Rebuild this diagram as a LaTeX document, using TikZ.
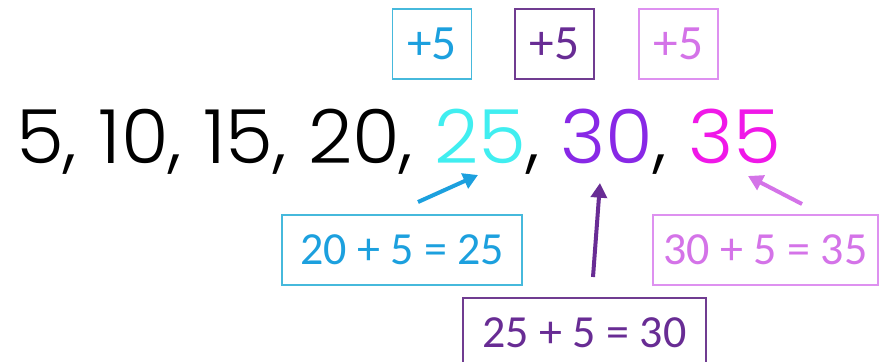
\documentclass[tikz,border=0pt]{standalone}
\usepackage{fontspec}
\usepackage{graphicx}
\newfontfamily\numfont{Poppins}[UprightFont=* Light]
\newfontfamily\boxfont{Carlito}
\usetikzlibrary{arrows.meta}
\definecolor{cyanA}{RGB}{64,238,240}
\definecolor{purpA}{RGB}{136,40,230}
\definecolor{magA}{RGB}{240,24,232}
\definecolor{boxC}{RGB}{70,185,220}
\definecolor{txtC}{RGB}{28,160,222}
\definecolor{boxP}{RGB}{112,60,145}
\definecolor{txtP}{RGB}{104,44,148}
\definecolor{boxV}{RGB}{222,145,240}
\definecolor{txtV}{RGB}{212,115,232}
\tikzset{
  topbox/.style={draw=#1, line width=1.2pt, minimum width=59.25pt, minimum height=52.5pt, inner sep=0pt, font=\boxfont\fontsize{37}{40}\selectfont},
  eqbox/.style={draw=#1, line width=1.2pt, minimum height=52.5pt, inner sep=0pt, font=\boxfont\fontsize{34.5}{38}\selectfont},
  arr/.style={draw=#1, line width=3pt, -{Triangle[length=11pt,width=12pt]}},
}
\begin{document}
\begin{tikzpicture}[x=0.75pt,y=-0.75pt]
\useasboundingbox (0,0) rectangle (880,361);
\begin{scope}
\clip (0,0) rectangle (880,361);
% top boxes
\node[topbox=boxC, text=txtC] (t1) at (432,44) {+5};
\node[topbox=boxP, text=txtP] (t2) at (554.5,44) {+5};
\node[topbox=boxV, text=txtV] (t3) at (678.5,44) {+5};
% sequence
\node[anchor=base west, inner sep=0pt, font=\numfont\fontsize{56}{60}\selectfont] (seq) at (16,163)
  {\scalebox{1.035}[1]{5, 10, 15, 20, \textcolor{cyanA}{25}, \textcolor{purpA}{30}, \textcolor{magA}{35}}};
% equation boxes
\node[eqbox=boxC, text=txtC, minimum width=180pt] (e1) at (402,250) {20 + 5 = 25};
\node[eqbox=boxP, text=txtP, minimum width=182.25pt] (e2) at (584.5,333) {25 + 5 = 30};
\node[eqbox=boxV, text=txtV, minimum width=168.75pt] (e3) at (765.5,250) {30 + 5 = 35};
\end{scope}
% arrows
\coordinate (a1s) at (418,202); \coordinate (a1e) at (478,175);
\coordinate (a2s) at (593,277); \coordinate (a2e) at (600,183);
\coordinate (a3s) at (802,204); \coordinate (a3e) at (748,176);
\draw[arr=txtC] (a1s) -- (a1e);
\draw[arr=txtP] (a2s) -- (a2e);
\draw[arr=txtV] (a3s) -- (a3e);
\end{tikzpicture}
\end{document}
